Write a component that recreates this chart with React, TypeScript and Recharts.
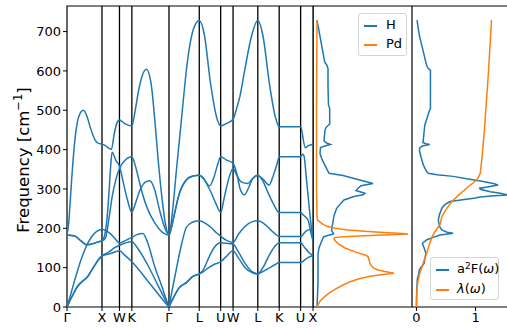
import React from 'react';
import { LineChart, Line, XAxis, YAxis, ReferenceLine, ReferenceArea } from 'recharts';

const BLUE = '#1f77b4';
const ORANGE = '#ff7f0e';
const FONT = 'DejaVu Sans';

// high-symmetry path, distance in units of |Γ-X|
const kTicks = [0, 1, 1.5, 1.854, 2.915, 3.781, 4.393, 4.747, 5.454, 6.066, 6.678, 7.032];
const kLabels = ['Γ', 'X', 'W', 'K', 'Γ', 'L', 'U', 'W', 'L', 'K', 'U', 'X'];
const freqTicks = [0, 100, 200, 300, 400, 500, 600, 700];
const freqMax = 765;

// phonon branches [k, freq]
const band1: [number, number][] = [
  [0, 183], [0.05, 215], [0.1, 280], [0.18, 380], [0.26, 450], [0.34, 485], [0.47, 500], [0.58, 482], [0.66, 458], [0.8, 425], [0.9, 416], [1, 414],
  [1.1, 410], [1.2, 403], [1.27, 401], [1.35, 440], [1.42, 466], [1.5, 475], [1.65, 466], [1.854, 460],
  [1.95, 500], [2.05, 552], [2.15, 588], [2.27, 604], [2.4, 570], [2.51, 475], [2.6, 380], [2.7, 289], [2.81, 213], [2.915, 183],
  [2.95, 195], [3.03, 255], [3.13, 350], [3.27, 475], [3.43, 615], [3.61, 705], [3.781, 728],
  [3.93, 690], [4.1, 570], [4.3, 475], [4.393, 460],
  [4.55, 466], [4.747, 477],
  [4.85, 505], [4.94, 534], [5.08, 602], [5.27, 687], [5.454, 728],
  [5.6, 690], [5.79, 565], [5.95, 485], [6.066, 458],
  [6.678, 458], [6.81, 405], [6.9, 410], [7.032, 414],
];

const band2: [number, number][] = [
  [0, 183], [0.12, 182], [0.23, 180], [0.4, 168], [0.56, 158], [0.75, 161], [0.9, 166], [1, 168],
  [1.07, 180], [1.14, 221], [1.2, 290], [1.25, 360], [1.29, 393], [1.4, 372], [1.5, 358],
  [1.6, 320], [1.72, 275], [1.854, 241],
  [1.95, 262], [2.1, 300], [2.25, 318], [2.37, 321], [2.5, 300], [2.65, 245], [2.8, 200], [2.915, 183],
  [2.98, 200], [3.08, 240], [3.2, 285], [3.41, 323], [3.6, 333], [3.781, 335],
  [3.9, 326], [4.08, 308], [4.2, 330], [4.3, 360], [4.393, 382],
  [4.55, 374], [4.747, 365],
  [4.85, 340], [4.95, 300], [5.07, 285], [5.2, 305], [5.3, 325], [5.454, 335],
  [5.6, 325], [5.78, 310], [5.9, 335], [6.0, 362], [6.066, 382],
  [6.678, 382], [6.72, 388], [6.77, 385], [6.85, 320], [6.95, 230], [7.032, 168],
];

const band3: [number, number][] = [
  [0, 183], [0.12, 182], [0.23, 180], [0.4, 168], [0.56, 158], [0.75, 161], [0.9, 166], [1, 168],
  [1.1, 175], [1.2, 225], [1.29, 280], [1.4, 325], [1.5, 352],
  [1.65, 372], [1.854, 382],
  [1.95, 360], [2.05, 325], [2.14, 293], [2.3, 250], [2.5, 215], [2.7, 192], [2.915, 183],
  [2.98, 200], [3.08, 240], [3.2, 285], [3.41, 323], [3.6, 333], [3.781, 335],
  [3.9, 328], [4.0, 312], [4.13, 289], [4.26, 262], [4.393, 241],
  [4.5, 280], [4.62, 325], [4.747, 352],
  [4.85, 335], [4.98, 318], [5.17, 314], [5.3, 326], [5.454, 335],
  [5.6, 320], [5.75, 290], [5.9, 262], [6.066, 240],
  [6.678, 240], [6.75, 234], [6.89, 221], [6.97, 190], [7.032, 168],
];

const band4: [number, number][] = [
  [0, 0], [0.1, 30], [0.2, 62], [0.3, 92], [0.45, 132], [0.57, 158], [0.7, 178], [0.85, 192], [1, 197],
  [1.12, 194], [1.23, 187], [1.35, 176], [1.5, 163],
  [1.65, 168], [1.854, 177],
  [2.0, 184], [2.17, 187], [2.3, 165], [2.5, 105], [2.7, 55], [2.885, 7], [2.915, 0],
  [2.945, 14], [3.0, 40], [3.1, 85], [3.25, 150], [3.41, 202], [3.55, 214], [3.781, 219],
  [3.95, 213], [4.14, 200], [4.28, 188], [4.393, 180],
  [4.55, 170], [4.747, 164],
  [4.9, 185], [5.08, 204], [5.3, 217], [5.454, 219],
  [5.6, 214], [5.8, 198], [5.95, 186], [6.066, 179],
  [6.678, 179], [6.8, 190], [6.9, 196], [7.032, 197],
];

const band5: [number, number][] = [
  [0, 0], [0.03, 6], [0.15, 28], [0.3, 52], [0.45, 66], [0.57, 75], [0.75, 100], [0.9, 120], [1, 130],
  [1.25, 136], [1.5, 143],
  [1.65, 132], [1.854, 115],
  [2.4, 56], [2.885, 3], [2.915, 0],
  [2.945, 6], [3.05, 25], [3.2, 48], [3.41, 62], [3.6, 78], [3.781, 84],
  [3.9, 95], [4.05, 125], [4.2, 150], [4.393, 163],
  [4.55, 162], [4.747, 160],
  [4.9, 140], [5.09, 111], [5.3, 89], [5.454, 84],
  [5.6, 100], [5.8, 135], [5.95, 155], [6.066, 163],
  [6.678, 163], [6.8, 150], [6.9, 140], [7.032, 130],
];

const band6: [number, number][] = [
  [0, 0], [0.03, 6], [0.15, 28], [0.3, 52], [0.45, 66], [0.57, 75], [0.75, 100], [0.9, 120], [1, 130],
  [1.2, 140], [1.35, 150], [1.5, 157],
  [1.854, 166],
  [2.0, 152], [2.3, 108], [2.6, 55], [2.885, 5], [2.915, 0],
  [2.945, 6], [3.05, 25], [3.2, 48], [3.41, 62], [3.6, 78], [3.781, 84],
  [3.9, 90], [4.05, 100], [4.2, 108], [4.393, 115],
  [4.55, 128], [4.747, 143],
  [4.9, 125], [5.09, 100], [5.3, 87], [5.454, 84],
  [5.6, 90], [5.8, 100], [5.95, 108], [6.066, 113],
  [6.678, 113], [6.8, 120], [6.9, 126], [7.032, 130],
];

const bands = [band1, band2, band3, band4, band5, band6];

// projected DOS [freq, value]
const hDos: [number, number][] = [
  [729, 4], [623, 11.7], [614, 14], [606, 15], [560, 15], [513, 15.5], [505, 16.7], [465, 16.7], [456, 13], [450, 12],
  [422, 11], [416, 14], [413, 17.4], [409, 12], [405, 7.5], [390, 7], [375, 9], [355, 13], [340, 16], [334, 30],
  [323, 46.7], [314, 60], [308, 48], [302, 45], [296, 43], [289, 52], [285, 50], [281, 41], [272, 31], [264, 28],
  [250, 23.5], [232, 21], [217, 20], [195, 18.5], [186, 20.7], [181, 14], [178, 10.5], [166, 8.4], [150, 6], [135, 5],
  [60, 5], [0, 4],
];

const pdDos: [number, number][] = [
  [729, 4], [500, 3.5], [300, 3.5], [230, 4], [221, 4.5], [212, 9], [205, 14], [200, 22], [196, 35], [192, 55],
  [189, 75], [187, 90], [185.5, 95], [183, 70], [180, 40], [177, 22], [174, 21], [168, 22], [160, 26], [150, 32],
  [140, 42], [132, 52], [128, 55], [120, 56], [110, 57], [100, 60], [94, 65], [90, 72], [86, 81], [82, 68],
  [78, 57], [72, 46], [65, 38], [56, 30], [45, 22], [35, 16], [25, 11], [15, 7], [5, 5], [0, 4],
];

// Eliashberg function and cumulative coupling [freq, value]
const a2F: [number, number][] = [
  [729, 0.01], [690, 0.05], [653, 0.11], [615, 0.17], [606, 0.2], [602, 0.237], [560, 0.237], [505, 0.237], [495, 0.21],
  [488, 0.197], [462, 0.141], [430, 0.12], [418, 0.11], [415, 0.16], [413, 0.225], [409, 0.1], [405, 0.06], [398, 0.05],
  [380, 0.08], [360, 0.12], [345, 0.17], [340, 0.2], [336, 0.35], [332, 0.62], [326, 0.85], [319, 1.13], [314, 1.3],
  [310, 1.38], [305, 1.2], [302, 1.07], [299, 1.08], [293, 1.25], [289, 1.42], [285, 1.55], [282, 1.25], [279, 1.05],
  [277, 1.0], [272, 0.75], [268, 0.57], [260, 0.48], [251, 0.43], [235, 0.39], [221, 0.37], [205, 0.39], [196, 0.43],
  [190, 0.52], [187.6, 0.62], [185, 0.5], [183, 0.4], [177, 0.28], [171, 0.18], [162, 0.1], [150, 0.13], [137, 0.16],
  [111, 0.13], [95, 0.05], [78, 0.03], [71, 0.015], [40, 0.005], [0, 0],
];

const lambda: [number, number][] = [
  [729, 1.27], [600, 1.22], [450, 1.15], [380, 1.11], [340, 1.08], [330, 1.05], [320, 1.0], [305, 0.87], [285, 0.72],
  [268, 0.6], [252, 0.52], [230, 0.43], [210, 0.4], [195, 0.33], [180, 0.27], [160, 0.22], [140, 0.18], [119, 0.13],
  [100, 0.09], [85, 0.055], [65, 0.025], [45, 0.01], [20, 0.002], [0, 0],
];

const toBand = (arr: [number, number][]) => arr.map(([s, f]) => ({ s, f }));
const toDos = (arr: [number, number][]) => arr.map(([f, x]) => ({ f, x }));

const tickStyle = { fontSize: 13, fill: '#000', fontFamily: FONT };

const YLabel = () => (
  <text
    x={28.5}
    y={160}
    transform="rotate(-90 28.5 160)"
    textAnchor="middle"
    fontSize={16.5}
    fontFamily={FONT}
    fill="#000"
  >
    Frequency [cm<tspan fontSize={11.5} dy={-7}>−1</tspan><tspan dy={7}>]</tspan>
  </text>
);

const legendBox: React.CSSProperties = {
  position: 'absolute',
  boxSizing: 'border-box',
  border: '1px solid #d4d4d4',
  borderRadius: 3,
  background: 'rgba(255,255,255,0.85)',
  fontFamily: FONT,
  fontSize: 13,
  color: '#000',
};

const LegendRow = ({ color, top, label, lineX, textX }: { color: string; top: number; label: React.ReactNode; lineX: number; textX: number }) => (
  <>
    <div style={{ position: 'absolute', left: lineX, top: top, width: 13, height: 1.5, background: color }} />
    <div style={{ position: 'absolute', left: textX, top: top - 9, lineHeight: '18px', whiteSpace: 'nowrap' }}>{label}</div>
  </>
);

const App: React.FC = () => {
  return (
    <div style={{ position: 'absolute', left: 0, top: 0, width: 507, height: 331, overflow: 'hidden', background: '#fff' }}>
      {/* band structure */}
      <div style={{ position: 'absolute', left: 0, top: 0 }}>
        <LineChart width={320} height={331} margin={{ top: 6, right: 7, bottom: 0, left: 0 }}>
          <XAxis
            type="number"
            dataKey="s"
            domain={[0, kTicks[kTicks.length - 1]]}
            ticks={kTicks}
            interval={0}
            allowDataOverflow
            tickFormatter={(v: number) => kLabels[kTicks.indexOf(v)]}
            height={24}
            tickSize={4}
            axisLine={false}
            tickLine={{ stroke: '#000' }}
            tick={tickStyle}
          />
          <YAxis
            type="number"
            domain={[0, freqMax]}
            ticks={freqTicks}
            allowDataOverflow
            width={67}
            tickSize={4}
            axisLine={false}
            tickLine={{ stroke: '#000' }}
            tick={tickStyle}
            label={<YLabel />}
          />
          {kTicks.slice(1, -1).map((k, i) => (
            <ReferenceLine key={i} x={k} stroke="#000" strokeWidth={1.3} />
          ))}
          {bands.map((b, i) => (
            <Line
              key={i}
              data={toBand(b)}
              dataKey="f"
              type="monotone"
              stroke={BLUE}
              strokeWidth={1.5}
              dot={false}
              isAnimationActive={false}
            />
          ))}
          <ReferenceArea x1={0} x2={kTicks[kTicks.length - 1]} y1={0} y2={freqMax} fill="none" stroke="#000" strokeWidth={1.2} ifOverflow="visible" />
        </LineChart>
      </div>

      {/* projected DOS */}
      <div style={{ position: 'absolute', left: 313, top: 0 }}>
        <LineChart layout="vertical" width={99} height={331} margin={{ top: 6, right: 0, bottom: 24, left: 0 }}>
          <XAxis type="number" domain={[0, 99]} hide allowDataOverflow />
          <YAxis type="number" dataKey="f" domain={[0, freqMax]} reversed hide allowDataOverflow />
          <Line data={toDos(hDos)} dataKey="x" type="linear" stroke={BLUE} strokeWidth={1.5} dot={false} isAnimationActive={false} />
          <Line data={toDos(pdDos)} dataKey="x" type="linear" stroke={ORANGE} strokeWidth={1.5} dot={false} isAnimationActive={false} />
          <ReferenceArea x1={0} x2={99} y1={0} y2={freqMax} fill="none" stroke="#000" strokeWidth={1.2} ifOverflow="visible" />
        </LineChart>
      </div>

      {/* a2F and lambda */}
      <div style={{ position: 'absolute', left: 412, top: 0 }}>
        <LineChart layout="vertical" width={99} height={331} margin={{ top: 6, right: 0, bottom: 0, left: 0 }}>
          <XAxis
            type="number"
            domain={[-0.075, 1.6]}
            ticks={[0, 1]}
            allowDataOverflow
            height={24}
            tickSize={4}
            axisLine={false}
            tickLine={{ stroke: '#000' }}
            tick={tickStyle}
          />
          <YAxis type="number" dataKey="f" domain={[0, freqMax]} reversed hide allowDataOverflow />
          <Line data={toDos(a2F)} dataKey="x" type="linear" stroke={BLUE} strokeWidth={1.5} dot={false} isAnimationActive={false} />
          <Line data={toDos(lambda)} dataKey="x" type="linear" stroke={ORANGE} strokeWidth={1.5} dot={false} isAnimationActive={false} />
          <ReferenceArea x1={-0.075} x2={1.6} y1={0} y2={freqMax} fill="none" stroke="#000" strokeWidth={1.2} ifOverflow="visible" />
        </LineChart>
      </div>

      <div style={{ ...legendBox, left: 358, top: 13, width: 49, height: 43 }}>
        <LegendRow color={BLUE} top={11} label="H" lineX={5} textX={27} />
        <LegendRow color={ORANGE} top={30} label="Pd" lineX={5} textX={27} />
      </div>
      <div style={{ ...legendBox, left: 430, top: 257, width: 69, height: 43 }}>
        <LegendRow color={BLUE} top={11} label={<span>a<sup style={{ fontSize: 9, verticalAlign: 'top', lineHeight: '12px' }}>2</sup>F(<i>ω</i>)</span>} lineX={5} textX={26} />
        <LegendRow color={ORANGE} top={31} label={<span><i>λ</i>(<i>ω</i>)</span>} lineX={5} textX={26} />
      </div>
    </div>
  );
};

export default App;
